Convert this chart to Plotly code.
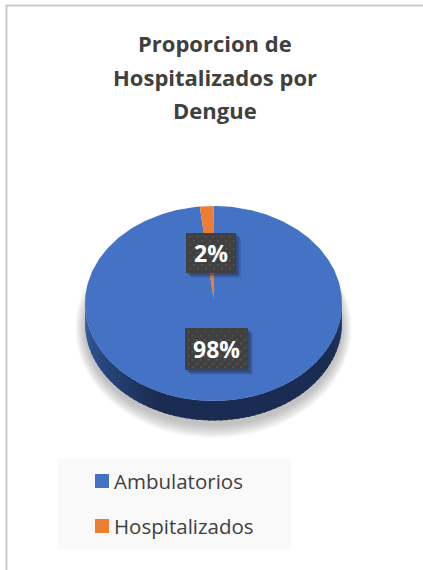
import math
import plotly.graph_objects as go

categories = ["Ambulatorios", "Hospitalizados"]
values = [98.3, 1.7]
colors = ["#4472C4", "#ED7D31"]
title_lines = ["Proporcion de", "Hospitalizados por", "Dengue"]

W, H = 423, 570
CX, CY, RX, RY = 213.5, 303.5, 128.5, 97.5
APEX_DY = 5.5 / RY      # perspective: the apex sits above the ellipse centre
DEPTH = 19.5 / RY

xr = [-CX / RX, (W - CX) / RX]
yr = [-(H - CY) / RY, CY / RY]

fig = go.Figure()


def ellipse(cx=0.0, cy=0.0, sx=1.0, sy=1.0, n=120):
    a = [2 * math.pi * i / n for i in range(n + 1)]
    return [cx + sx * math.cos(t) for t in a], [cy + sy * math.sin(t) for t in a]


def mix(c1, c2, f):
    return "#%02x%02x%02x" % tuple(round(a + (b - a) * f) for a, b in zip(c1, c2))


# soft drop shadow
for i in range(12):
    f = i / 11
    x, y = ellipse(0.0, -0.25, 1.075 - 0.075 * f, 1.13 - 0.13 * f)
    fig.add_trace(go.Scatter(x=x, y=y, mode="lines", fill="toself", line=dict(width=0),
                             fillcolor="rgba(120,120,120,0.045)", showlegend=False, hoverinfo="skip"))

# side wall, shaded in strips from left to right
stops = [(0.0, (54, 94, 165)), (0.36, (26, 44, 82)), (0.85, (26, 44, 82)), (1.0, (32, 56, 100))]
N = 70
for i in range(N):
    a0 = math.pi + math.pi * i / N
    a1 = math.pi + math.pi * (i + 1.5) / N
    f = i / (N - 1)
    for (p0, c0), (p1, c1) in zip(stops, stops[1:]):
        if p0 <= f <= p1:
            col = mix(c0, c1, (f - p0) / (p1 - p0))
            break
    xs = [math.cos(a0), math.cos(a1), math.cos(a1), math.cos(a0), math.cos(a0)]
    ys = [math.sin(a0), math.sin(a1), math.sin(a1) - DEPTH, math.sin(a0) - DEPTH, math.sin(a0)]
    fig.add_trace(go.Scatter(x=xs, y=ys, mode="lines", fill="toself", line=dict(width=0),
                             fillcolor=col, showlegend=False, hoverinfo="skip"))

# top face: slices clockwise, the last one ends at twelve o'clock
total = sum(values)
start = 0.0
for name, v, c in zip(categories, values, colors):
    span = 2 * math.pi * v / total
    n = max(3, int(span * 60))
    ang = [start + span * i / n for i in range(n + 1)]
    xs = [0.0] + [math.sin(t) for t in ang] + [0.0]
    ys = [APEX_DY] + [math.cos(t) for t in ang] + [APEX_DY]
    fig.add_trace(go.Scatter(x=xs, y=ys, mode="lines", fill="toself", line=dict(width=0),
                             fillcolor=c, showlegend=False, hoverinfo="skip"))
    start += span

# legend entries: native text, swatches drawn as shapes for the tighter key gap
for name, c in zip(categories, colors):
    fig.add_trace(go.Scatter(x=[None], y=[None], mode="markers", name=name,
                             marker=dict(symbol="square", size=14, color="rgba(0,0,0,0)"), legendgroup=name))

shapes = [
    dict(type="rect", xref="paper", yref="paper", x0=6.5 / W, x1=1.02, y0=-0.02, y1=1 - 5.5 / H,
         line=dict(color="#c9c9c9", width=2), fillcolor="#ffffff", layer="below"),
    dict(type="rect", xref="paper", yref="paper", x0=58 / W, x1=291 / W, y0=1 - 549 / H, y1=1 - 459 / H,
         line=dict(width=0), fillcolor="#f9f9f9", layer="below"),
]
for c, top in zip(colors, [474, 519]):
    shapes.append(dict(type="rect", xref="paper", yref="paper", x0=95 / W, x1=109 / W,
                       y0=1 - (top + 14) / H, y1=1 - top / H, line=dict(width=0), fillcolor=c, layer="below"))

annotations = []
for line, py in zip(title_lines, [43, 77, 110]):
    annotations.append(dict(text=f"<b>{line}</b>", x=215 / W, y=1 - py / H, xref="paper", yref="paper",
                            showarrow=False, xanchor="center", yanchor="middle",
                            font=dict(family="Open Sans", size=22, color="#404040")))

# data labels: box (left, top, right, bottom) in page pixels
boxes = [(185, 328, 248, 370), (186, 233, 236, 273)]
for v, (l, t, r, b) in zip(values, boxes):
    for d, op in [(5, 0.10), (4, 0.12), (3, 0.15), (2, 0.2)]:
        shapes.append(dict(type="rect", xref="paper", yref="paper", x0=(l + d) / W, x1=(r + d) / W,
                           y0=1 - (b + d) / H, y1=1 - (t + d) / H, line=dict(width=0),
                           fillcolor=f"rgba(30,30,50,{op})", layer="above"))
    shapes.append(dict(type="rect", xref="paper", yref="paper", x0=l / W, x1=r / W, y0=1 - b / H, y1=1 - t / H,
                       line=dict(width=0), fillcolor="#404040", layer="above"))
    # faint dotted texture
    for row, yy in enumerate(range(t + 3, b - 1, 4)):
        for xx in range(l + 3 + (row % 2) * 4, r - 1, 8):
            shapes.append(dict(type="rect", xref="paper", yref="paper", x0=xx / W, x1=(xx + 1.5) / W,
                               y0=1 - (yy + 1.5) / H, y1=1 - yy / H, line=dict(width=0),
                               fillcolor="#5a5a5a", layer="above"))
    annotations.append(dict(text=f"<b>{round(v)}%</b>", x=(l + r) / 2 / W, y=1 - (t + b) / 2 / H,
                            xref="paper", yref="paper", showarrow=False, xanchor="center", yanchor="middle",
                            font=dict(family="Open Sans", size=23, color="#ffffff")))

fig.update_layout(
    width=W, height=H, margin=dict(l=0, r=0, t=0, b=0), paper_bgcolor="#ffffff", plot_bgcolor="rgba(0,0,0,0)",
    xaxis=dict(range=xr, visible=False, fixedrange=True),
    yaxis=dict(range=yr, visible=False, fixedrange=True),
    shapes=shapes, annotations=annotations,
    legend=dict(x=74 / W, y=1 - 461 / H, xanchor="left", yanchor="top", bgcolor="rgba(0,0,0,0)",
                tracegroupgap=16, traceorder="grouped", itemwidth=30,
                font=dict(family="Open Sans", size=20.5, color="#404040")),
)
fig.write_html("out.html", config=dict(displayModeBar=False),
               post_script="document.body.style.margin='0';document.body.style.overflow='hidden';")
